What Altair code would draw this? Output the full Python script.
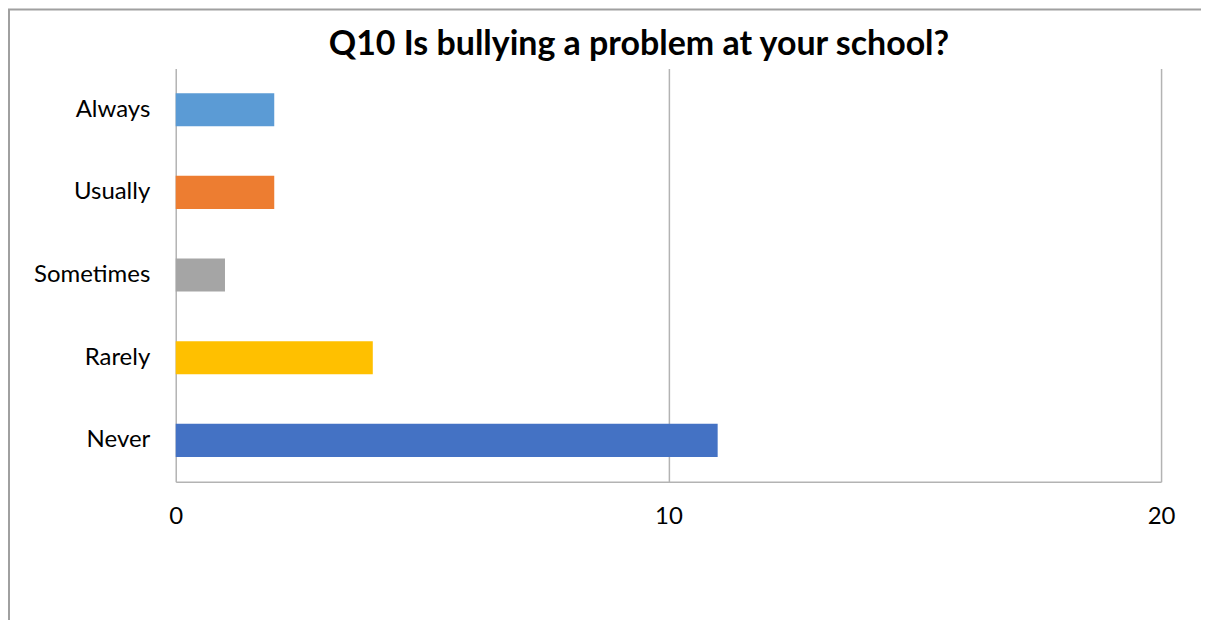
import altair as alt
import pandas as pd

categories = ["Always", "Usually", "Sometimes", "Rarely", "Never"]
values = [2, 2, 1, 4, 11]
colors = ["#5B9BD5", "#ED7D31", "#A5A5A5", "#FFC000", "#4472C4"]
title_text = "Q10 Is bullying a problem at your school?"

df = pd.DataFrame({"answer": categories, "count": values})

FONT = "Lato"

bars = alt.Chart(df).mark_bar().encode(
    y=alt.Y("answer:N", sort=categories, title=None,
            scale=alt.Scale(paddingInner=0.6, paddingOuter=0.3),
            axis=alt.Axis(domain=False, ticks=False, labelPadding=26,
                          labelFontSize=24, labelColor="#000000", labelFont=FONT)),
    x=alt.X("count:Q", title=None,
            scale=alt.Scale(domain=[0, 20]),
            axis=alt.Axis(values=[0, 10, 20], grid=True, gridColor="#B3B3B3", gridWidth=1.5,
                          domain=True, domainColor="#B3B3B3", domainWidth=1.5,
                          ticks=False, labelPadding=23, labelFontSize=24, labelFlush=False,
                          labelColor="#000000", labelFont=FONT)),
    color=alt.Color("answer:N", sort=categories,
                    scale=alt.Scale(domain=categories, range=colors), legend=None),
)

frame = alt.Data(values=[{"t": title_text}])
top_line = alt.Chart(frame).mark_rule(color="#A0A0A0", strokeWidth=2).encode(
    x=alt.value(-168), x2=alt.value(1100), y=alt.value(-59))
left_line = alt.Chart(frame).mark_rule(color="#A0A0A0", strokeWidth=2).encode(
    x=alt.value(-167), y=alt.value(-59), y2=alt.value(600))
title = alt.Chart(frame).mark_text(
    font=FONT, fontSize=34, fontWeight="bold", color="#000000",
    align="center", baseline="middle").encode(
    text="t:N", x=alt.value(464), y=alt.value(-23))

chart = alt.layer(bars, top_line, left_line, title).properties(
    width=987, height=414,
    autosize=alt.AutoSizeParams(type="none"),
    padding={"left": 168, "top": 60, "right": 40, "bottom": 138},
).configure_view(stroke=None)

chart.save("out.html", embed_options={"renderer": "svg", "actions": False})
